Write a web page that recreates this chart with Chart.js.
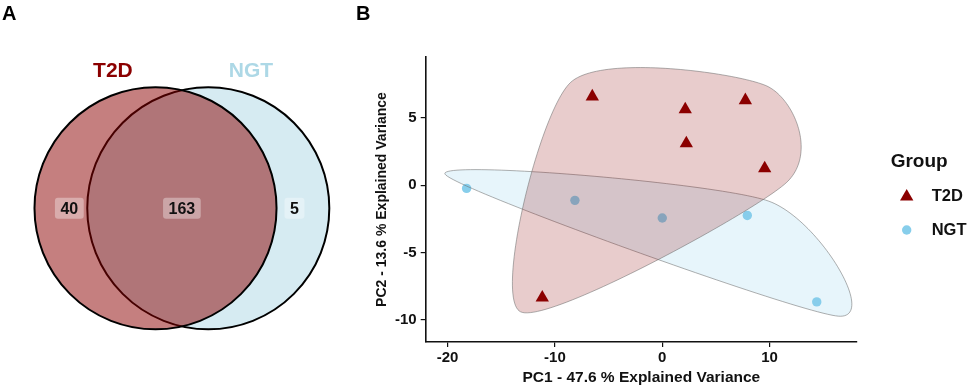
<!DOCTYPE html>
<html>
<head>
<meta charset="utf-8">
<script src="https://cdn.jsdelivr.net/npm/chart.js@4.4.1/dist/chart.umd.min.js"></script>
<style>
  html, body { margin: 0; padding: 0; background: #fff; }
  #wrap { position: relative; width: 969px; height: 388px; overflow: hidden; font-family: "Liberation Sans", Arial, sans-serif; }
  canvas { position: absolute; top: 0; }
  #venn { left: 0; }
  #pca { left: 350px; }
  .tag { position: absolute; top: 3px; font-size: 20px; line-height: 20px; font-weight: bold; color: #000; }
</style>
</head>
<body>
<div id="wrap">
  <canvas id="venn" width="350" height="388"></canvas>
  <canvas id="pca" width="619" height="388"></canvas>
  <div class="tag" style="left:2px">A</div>
  <div class="tag" style="left:356px">B</div>
</div>
<script>
// panel A - venn
var vennSets = ['T2D', 'NGT'];
var vennCounts = [40, 163, 5];          // T2D only, both, NGT only
var vennColors = ['#8B0000', '#ADD8E6'];

// panel B - PCA scores
var pcXTicks = [-20, -10, 0, 10];
var pcYTicks = [-10, -5, 0, 5];
var t2dX = [-6.52, 2.14, 7.74, 2.24, 9.54, -11.18];
var t2dY = [6.59, 5.63, 6.31, 3.10, 1.24, -8.36];
var ngtX = [-18.23, -8.14, 0.0, 7.92, 14.39];
var ngtY = [-0.24, -1.13, -2.44, -2.25, -8.68];

var FONT = '"Liberation Sans", Arial, sans-serif';
Chart.defaults.font.family = FONT;
Chart.defaults.color = '#111';

// ---------- Venn ----------
var half = 0.218;   // half distance between circle centres (radius = 1)

function unitPx(chart) {
  var s = chart.scales.x;
  return s.getPixelForValue(1) - s.getPixelForValue(0);
}

function roundBox(ctx, x, y, w, h, r) {
  ctx.beginPath();
  ctx.moveTo(x + r, y);
  ctx.arcTo(x + w, y, x + w, y + h, r);
  ctx.arcTo(x + w, y + h, x, y + h, r);
  ctx.arcTo(x, y + h, x, y, r);
  ctx.arcTo(x, y, x + w, y, r);
  ctx.closePath();
}

const vennText = {
  id: 'vennText',
  afterDatasetsDraw(chart) {
    const ctx = chart.ctx, sx = chart.scales.x, sy = chart.scales.y;
    ctx.save();
    ctx.textAlign = 'center';
    ctx.textBaseline = 'middle';
    ctx.font = 'bold 21px ' + FONT;
    vennSets.forEach(function (s, i) {
      var sign = i === 0 ? -1 : 1;
      ctx.fillStyle = vennColors[i];
      ctx.fillText(s, sx.getPixelForValue(sign * 0.57), sy.getPixelForValue(1.135));
    });
    ctx.font = 'bold 16px ' + FONT;
    var cx = [-0.93, 0, 0.93];
    vennCounts.forEach(function (c, i) {
      var px = sx.getPixelForValue(cx[i]), py = sy.getPixelForValue(0);
      var w = ctx.measureText(String(c)).width + 11, h = 21;
      ctx.fillStyle = 'rgba(255,255,255,0.35)';
      roundBox(ctx, px - w / 2, py - h / 2, w, h, 3);
      ctx.fill();
      ctx.fillStyle = '#111';
      ctx.fillText(String(c), px, py + 1);
    });
    ctx.restore();
  }
};

new Chart(document.getElementById('venn'), {
  type: 'scatter',
  data: {
    datasets: vennSets.map(function (s, i) {
      return {
        label: s,
        data: [{ x: i === 0 ? -half : half, y: 0 }],
        backgroundColor: i === 0 ? 'rgba(139,0,0,0.5)' : 'rgba(173,216,230,0.5)',
        borderColor: '#000',
        borderWidth: 2,
        pointRadius: function (ctx) { return unitPx(ctx.chart); },
        pointHoverRadius: function (ctx) { return unitPx(ctx.chart); }
      };
    })
  },
  options: {
    responsive: false,
    animation: false,
    events: [],
    layout: { padding: 0 },
    scales: {
      x: { display: false, min: -1.503, max: 1.389 },
      y: { display: false, min: -1.485, max: 1.721 }
    },
    plugins: { legend: { display: false }, tooltip: { enabled: false } }
  },
  plugins: [vennText]
});

// ---------- PCA ----------
function hull(pts) {
  pts = pts.slice().sort(function (a, b) { return a.x - b.x || a.y - b.y; });
  var cross = function (o, a, b) { return (a.x - o.x) * (b.y - o.y) - (a.y - o.y) * (b.x - o.x); };
  var lower = [], upper = [];
  pts.forEach(function (p) {
    while (lower.length >= 2 && cross(lower[lower.length - 2], lower[lower.length - 1], p) <= 0) lower.pop();
    lower.push(p);
  });
  for (var i = pts.length - 1; i >= 0; i--) {
    var p = pts[i];
    while (upper.length >= 2 && cross(upper[upper.length - 2], upper[upper.length - 1], p) <= 0) upper.pop();
    upper.push(p);
  }
  lower.pop(); upper.pop();
  return lower.concat(upper);
}

// closed cardinal spline through the control points
function smoothLoop(ctrl, c) {
  var n = ctrl.length, out = [];
  for (var k = 0; k < n; k++) {
    var p0 = ctrl[(k - 1 + n) % n], p1 = ctrl[k], p2 = ctrl[(k + 1) % n], p3 = ctrl[(k + 2) % n];
    var m1x = c * (p2.x - p0.x), m1y = c * (p2.y - p0.y);
    var m2x = c * (p3.x - p1.x), m2y = c * (p3.y - p1.y);
    for (var t = 0; t < 1; t += 0.02) {
      var t2 = t * t, t3 = t2 * t;
      var h00 = 2 * t3 - 3 * t2 + 1, h10 = t3 - 2 * t2 + t, h01 = -2 * t3 + 3 * t2, h11 = t3 - t2;
      out.push({
        x: h00 * p1.x + h10 * m1x + h01 * p2.x + h11 * m2x,
        y: h00 * p1.y + h10 * m1y + h01 * p2.y + h11 * m2y
      });
    }
  }
  return out;
}

var hullFill = ['rgba(139,0,0,0.2)', 'rgba(135,206,235,0.2)'];

const hullPlugin = {
  id: 'hulls',
  afterDatasetsDraw(chart) {
    const ctx = chart.ctx, ca = chart.chartArea;
    const ex = 0.05 * (ca.right - ca.left), ey = 0.05 * (ca.bottom - ca.top);
    ctx.save();
    for (var d = chart.data.datasets.length - 1; d >= 0; d--) {
      var pts = chart.getDatasetMeta(d).data.map(function (el) { return { x: el.x, y: el.y }; });
      var mx = 0, my = 0;
      pts.forEach(function (p) { mx += p.x / pts.length; my += p.y / pts.length; });
      var ctrl = hull(pts).map(function (p) {
        return { x: p.x + Math.sign(p.x - mx) * ex, y: p.y + Math.sign(p.y - my) * ey };
      });
      var curve = smoothLoop(ctrl, 0.38);
      ctx.beginPath();
      curve.forEach(function (p, i) { if (i === 0) ctx.moveTo(p.x, p.y); else ctx.lineTo(p.x, p.y); });
      ctx.closePath();
      ctx.fillStyle = hullFill[d];
      ctx.fill();
      ctx.strokeStyle = 'rgba(110,110,110,0.55)';
      ctx.lineWidth = 1;
      ctx.stroke();
    }
    ctx.restore();
  }
};

const groupLegend = {
  id: 'groupLegend',
  afterDraw(chart) {
    const ctx = chart.ctx, ca = chart.chartArea;
    const x0 = ca.right, yc = (ca.top + ca.bottom) / 2;
    ctx.save();
    ctx.textAlign = 'left';
    ctx.textBaseline = 'middle';
    ctx.fillStyle = '#111';
    ctx.font = 'bold 19px ' + FONT;
    ctx.fillText('Group', x0 + 33.7, yc - 37.8);
    chart.data.datasets.forEach(function (ds, i) {
      var y = yc - 2.8 + i * 33.3, x = x0 + 49.7, r = ds.pointRadius;
      ctx.fillStyle = ds.backgroundColor;
      ctx.beginPath();
      if (ds.pointStyle === 'triangle') {
        ctx.moveTo(x, y - r);
        ctx.lineTo(x + r * Math.sqrt(3) / 2, y + r / 2);
        ctx.lineTo(x - r * Math.sqrt(3) / 2, y + r / 2);
        ctx.closePath();
      } else {
        ctx.arc(x, y, r, 0, Math.PI * 2);
      }
      ctx.fill();
      ctx.fillStyle = '#111';
      ctx.font = 'bold 16.5px ' + FONT;
      ctx.fillText(ds.label, x0 + 74.7, y);
    });
    ctx.restore();
  }
};

function xy(xs, ys) { return xs.map(function (v, i) { return { x: v, y: ys[i] }; }); }

var axisGrid = { display: true, drawOnChartArea: false, drawTicks: true, tickLength: 5, color: '#111', lineWidth: 1.2 };
var axisBorder = { display: true, color: '#111', width: 1.6 };
var tickFont = { size: 15, weight: 'bold' };

new Chart(document.getElementById('pca'), {
  type: 'scatter',
  data: {
    datasets: [
      { label: 'T2D', data: xy(t2dX, t2dY), pointStyle: 'triangle', pointRadius: 7.7, pointHoverRadius: 7.7,
        backgroundColor: '#8B0000', borderColor: '#8B0000', borderWidth: 0 },
      { label: 'NGT', data: xy(ngtX, ngtY), pointStyle: 'circle', pointRadius: 4.7, pointHoverRadius: 4.7,
        backgroundColor: '#87CEEB', borderColor: '#87CEEB', borderWidth: 0 }
    ]
  },
  options: {
    responsive: false,
    animation: false,
    events: [],
    layout: { padding: { left: 24, top: 57, right: 112, bottom: 1 } },
    scales: {
      x: {
        type: 'linear', min: -22.04, max: 18.14,
        afterBuildTicks: function (s) { s.ticks = pcXTicks.map(function (v) { return { value: v }; }); },
        afterFit: function (s) { s.height = 45; },
        grid: axisGrid, border: axisBorder,
        ticks: { color: '#111', font: tickFont, padding: 2, maxRotation: 0 },
        title: { display: true, text: 'PC1 - 47.6 % Explained Variance', color: '#111',
                 font: { size: 15.5, weight: 'bold' }, padding: 0 }
      },
      y: {
        type: 'linear', min: -11.66, max: 9.53,
        afterBuildTicks: function (s) { s.ticks = pcYTicks.map(function (v) { return { value: v }; }); },
        afterFit: function (s) { s.width = 51.7; },
        grid: axisGrid, border: axisBorder,
        ticks: { color: '#111', font: tickFont, padding: 4 },
        title: { display: true, text: 'PC2 - 13.6 % Explained Variance', color: '#111',
                 font: { size: 14, weight: 'bold' }, padding: 0 }
      }
    },
    plugins: { legend: { display: false }, tooltip: { enabled: false } }
  },
  plugins: [hullPlugin, groupLegend]
});
</script>
</body>
</html>
